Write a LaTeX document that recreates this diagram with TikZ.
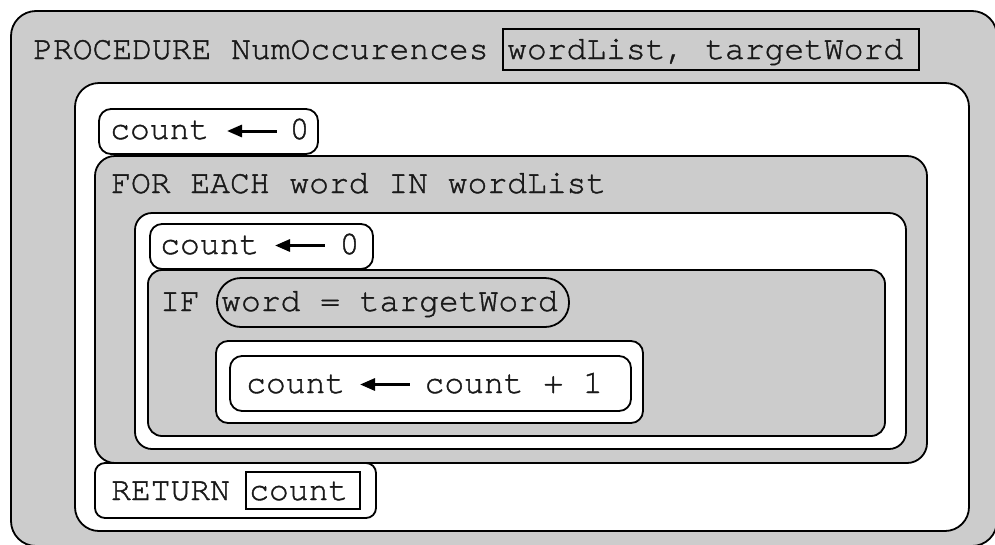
\documentclass[tikz,border=0pt]{standalone}
\usepackage{fontspec}
\setmonofont[FakeBold=1.2]{TeX Gyre Cursor}
\usetikzlibrary{arrows.meta}
\definecolor{panel}{RGB}{204,204,204}
\begin{document}
\begin{tikzpicture}[x=1pt,y=-1pt,
  blk/.style={draw=black, line width=1.8pt},
  graybox/.style={blk, fill=panel},
  whitebox/.style={blk, fill=white},
  code/.style={anchor=base west, inner sep=0pt, font=\fontsize{33}{40}\selectfont\ttfamily, text=black!90},
  asg/.style={line width=3pt, {Triangle[length=15pt,width=12pt]}-}
]
\useasboundingbox (0,0) rectangle (995,544);
\clip (0,0) rectangle (995,544);
\fill[white] (0,0) rectangle (995,544);

% procedure frame
\draw[graybox, rounded corners=25pt] (11,11) rectangle (997,546);
\node[code] (proc) at (33,59) {PROCEDURE NumOccurences};
\draw[graybox, line width=1.6pt] (503,29) rectangle (919,70);
\node[code] (params) at (507,59) {wordList, targetWord};

% procedure body
\draw[whitebox, rounded corners=24pt] (75,83) rectangle (969,531);

% count <- 0 (first)
\draw[whitebox, rounded corners=12pt] (99,109) rectangle (318,154);
\node[code] (initA) at (110,139) {count\hspace{80.4pt}0};
\draw[asg] ([xshift=117pt,yshift=8pt]initA.base west) -- ([xshift=167pt,yshift=8pt]initA.base west);

% loop
\draw[graybox, rounded corners=20pt] (95,156) rectangle (927,463);
\node[code] (loop) at (111,193) {FOR EACH word IN wordList};
\draw[whitebox, rounded corners=17pt] (135,213) rectangle (906,449);

% count <- 0 (second)
\draw[whitebox, rounded corners=12pt] (150,224) rectangle (373,269);
\node[code] (initB) at (160,254) {count\hspace{80.4pt}0};
\draw[asg] ([xshift=115pt,yshift=8.5pt]initB.base west) -- ([xshift=165pt,yshift=8.5pt]initB.base west);

% condition
\draw[graybox, rounded corners=14pt] (148,270) rectangle (885,436);
\node[code] (iflbl) at (160,311) {IF};
\draw[graybox, rounded corners=24pt] (217,278) rectangle (569,327);
\node[code] (cond) at (221,311) {word = targetWord};

% increment
\draw[whitebox, rounded corners=12pt] (216,341) rectangle (643,423);
\draw[whitebox, rounded corners=12pt] (230,356) rectangle (631,411);
\node[code] (inc) at (246,393) {count\hspace{79.4pt}count + 1};
\draw[asg] ([xshift=114pt,yshift=8.5pt]inc.base west) -- ([xshift=164pt,yshift=8.5pt]inc.base west);

% return
\draw[whitebox, rounded corners=10pt] (95,463) rectangle (376,518);
\node[code] (ret) at (111,500) {RETURN};
\draw[whitebox, line width=1.6pt] (246,472) rectangle (360,509);
\node[code] (retval) at (249,500) {count};
\end{tikzpicture}
\end{document}
